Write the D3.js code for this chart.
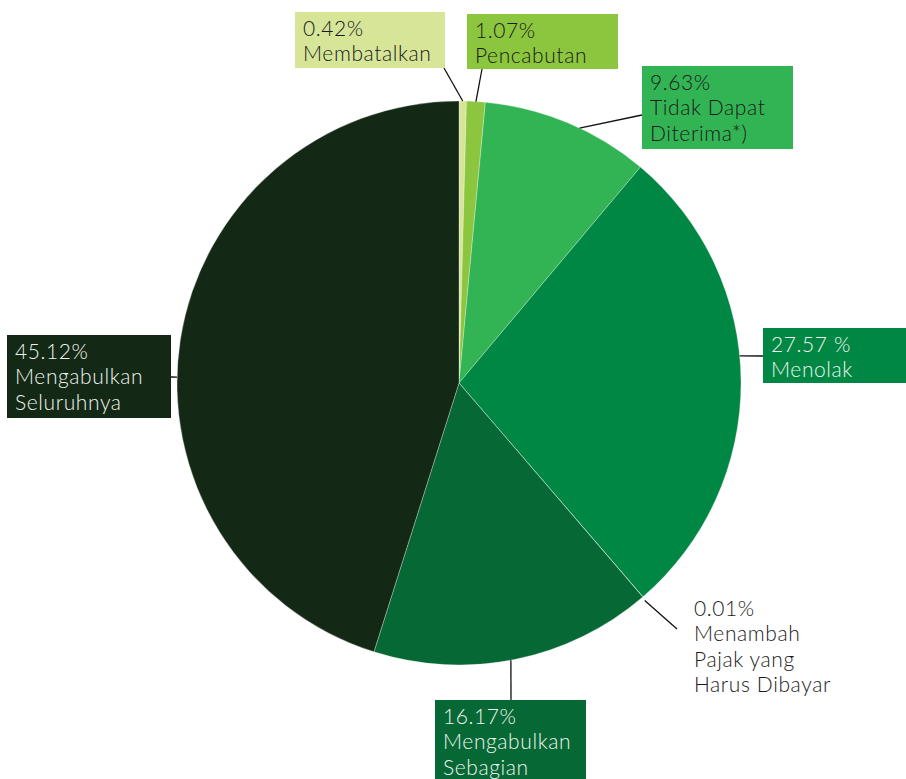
<!DOCTYPE html>
<html>
<head>
<meta charset="utf-8">
<script src="https://cdn.jsdelivr.net/npm/d3@7"></script>
<style>
  html,body{margin:0;padding:0;background:#fff}
  svg{display:block}
  .lbl{font-family:'Lato',sans-serif;font-size:21px;font-weight:300;letter-spacing:0.6px}
</style>
</head>
<body>
<svg id="chart" width="906" height="779"></svg>
<script>
// data
const categories = ['Membatalkan', 'Pencabutan', 'Tidak Dapat Diterima*)', 'Menolak',
  'Menambah Pajak yang Harus Dibayar', 'Mengabulkan Sebagian', 'Mengabulkan Seluruhnya'];
const values = [0.42, 1.07, 9.63, 27.57, 0.01, 16.17, 45.12];
const valueLabels = ['0.42%', '1.07%', '9.63%', '27.57 %', '0.01%', '16.17%', '45.12%'];
const labelLines = [
  ['Membatalkan'], ['Pencabutan'], ['Tidak Dapat', 'Diterima*)'], ['Menolak'],
  ['Menambah', 'Pajak yang', 'Harus Dibayar'], ['Mengabulkan', 'Sebagian'], ['Mengabulkan', 'Seluruhnya'],
];
const colors = ['#d6e598', '#8cc63f', '#33b454', '#008744', '#5fb86a', '#066835', '#132916'];
const textColors = ['#1a1a1a', '#1a1a1a', '#1a1a1a', '#eef3ee', '#1a1a1a', '#eef3ee', '#eef3ee'];

// label layout: box (x,y,w,h; w=0 -> no box), leader angle (deg, null = slice middle), leader end
const layout = [
  { x: 295, y: 12, w: 150, h: 56, ang: null, end: [444, 68] },
  { x: 467, y: 14, w: 151, h: 55, ang: null, end: [482, 69] },
  { x: 642, y: 66, w: 151, h: 83, ang: 25.3, end: [642, 115] },
  { x: 763, y: 328, w: 150, h: 55, ang: 84.5, end: [763, 356] },
  { x: 686, y: 592, w: 0, h: 0, ang: 139.5, end: [677, 629], r: 286 },
  { x: 435, y: 700, w: 151, h: 90, ang: 169.4, end: [511, 700] },
  { x: 7, y: 335, w: 164, h: 83, ang: 271.2, end: [171, 377] },
];

const cx = 459, cy = 383, radius = 282;
const svg = d3.select('#chart');
const g = svg.append('g').attr('transform', `translate(${cx},${cy})`);

const pie = d3.pie().sort(null).value(d => d)(values);
const arc = d3.arc().innerRadius(0).outerRadius(radius);

g.selectAll('path.slice').data(pie).enter().append('path')
  .attr('class', 'slice')
  .attr('d', arc)
  .attr('fill', (d, i) => colors[i])
  .attr('stroke', '#ffffff').attr('stroke-width', 0.3);

// leaders
pie.forEach((d, i) => {
  const L = layout[i];
  const a = L.ang == null ? (d.startAngle + d.endAngle) / 2 : L.ang * Math.PI / 180;
  const r = L.r || radius;
  const x0 = cx + r * Math.sin(a), y0 = cy - r * Math.cos(a);
  svg.append('line')
    .attr('x1', x0).attr('y1', y0).attr('x2', L.end[0]).attr('y2', L.end[1])
    .attr('stroke', '#111').attr('stroke-width', 1.3);
});

// label boxes
layout.forEach((L, i) => {
  const grp = svg.append('g');
  if (L.w) {
    grp.append('rect').attr('x', L.x).attr('y', L.y).attr('width', L.w).attr('height', L.h)
      .attr('fill', colors[i]);
  }
  const lines = [valueLabels[i], ...labelLines[i]];
  const t = grp.append('text').attr('class', 'lbl').attr('fill', textColors[i]);
  lines.forEach((s, k) => {
    t.append('tspan').attr('x', L.x + 8).attr('y', L.y + 24 + k * 25.3).text(s);
  });
});
</script>
</body>
</html>
